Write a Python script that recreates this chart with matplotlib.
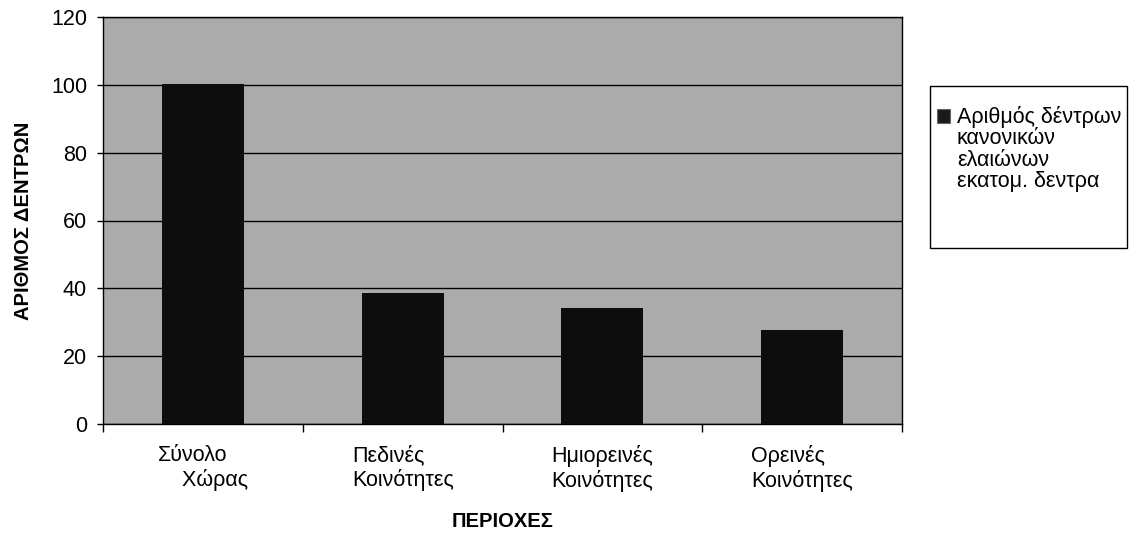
import matplotlib
matplotlib.use("Agg")
import matplotlib.pyplot as plt
from matplotlib.patches import Rectangle

plt.rcParams['font.family'] = ['Liberation Sans', 'DejaVu Sans']

categories = ["Σύνολο\n    Χώρας", "Πεδινές\nΚοινότητες", "Ημιορεινές\nΚοινότητες", "Ορεινές\nΚοινότητες"]
values = [100.3, 38.5, 34.1, 27.6]
yticks = [0, 20, 40, 60, 80, 100, 120]
legend_label = "Αριθμός δέντρων\nκανονικών\nελαιώνων\nεκατομ. δεντρα"

W, H = 1133, 536
fig = plt.figure(figsize=(W / 100, H / 100), dpi=100)
ax = fig.add_axes([103 / W, 1 - 424 / H, (902 - 103) / W, (424 - 17) / H])
ax.set_facecolor('#ababab')

x = list(range(len(categories)))
ax.bar(x, values, width=0.41, color='#0d0d0d', zorder=3)

ax.set_xlim(-0.5, len(categories) - 0.5)
ax.set_ylim(0, 120)
ax.set_yticks(yticks)
ax.set_yticklabels([str(t) for t in yticks], fontsize=15.5)
ax.yaxis.grid(True, color='black', linewidth=1.0, zorder=1)
ax.set_axisbelow(True)

ax.set_xticks(x)
ax.set_xticklabels(categories, fontsize=15.5, multialignment='left')
ax.set_xticks([i - 0.5 for i in range(len(categories) + 1)], minor=True)
ax.tick_params(axis='x', which='major', length=0, pad=15)
ax.tick_params(axis='x', which='minor', direction='out', length=6, width=1, color='black')
ax.tick_params(axis='y', direction='out', length=4.5, width=1, pad=7, color='black')

for s in ax.spines.values():
    s.set_color('black')
    s.set_linewidth(1.0)

ax.set_ylabel("ΑΡΙΘΜΟΣ ΔΕΝΤΡΩΝ", fontsize=14.5, fontweight='bold', labelpad=13)
ax.set_xlabel("ΠΕΡΙΟΧΕΣ", fontsize=14.5, fontweight='bold', labelpad=14)

# legend box
fig.patches.append(Rectangle((930 / W, 1 - 248 / H), (1127 - 930) / W, (248 - 86) / H,
                             transform=fig.transFigure, facecolor='white',
                             edgecolor='black', linewidth=1.0))
fig.patches.append(Rectangle((937 / W, 1 - 123 / H), 13 / W, 14 / H,
                             transform=fig.transFigure, facecolor='#1a1a1a',
                             edgecolor='#666666', linewidth=0.8))
fig.text(957 / W, 1 - 106 / H, legend_label, fontsize=15.5, va='top', ha='left',
         linespacing=1.03)

fig.savefig("out.png", dpi=100)
